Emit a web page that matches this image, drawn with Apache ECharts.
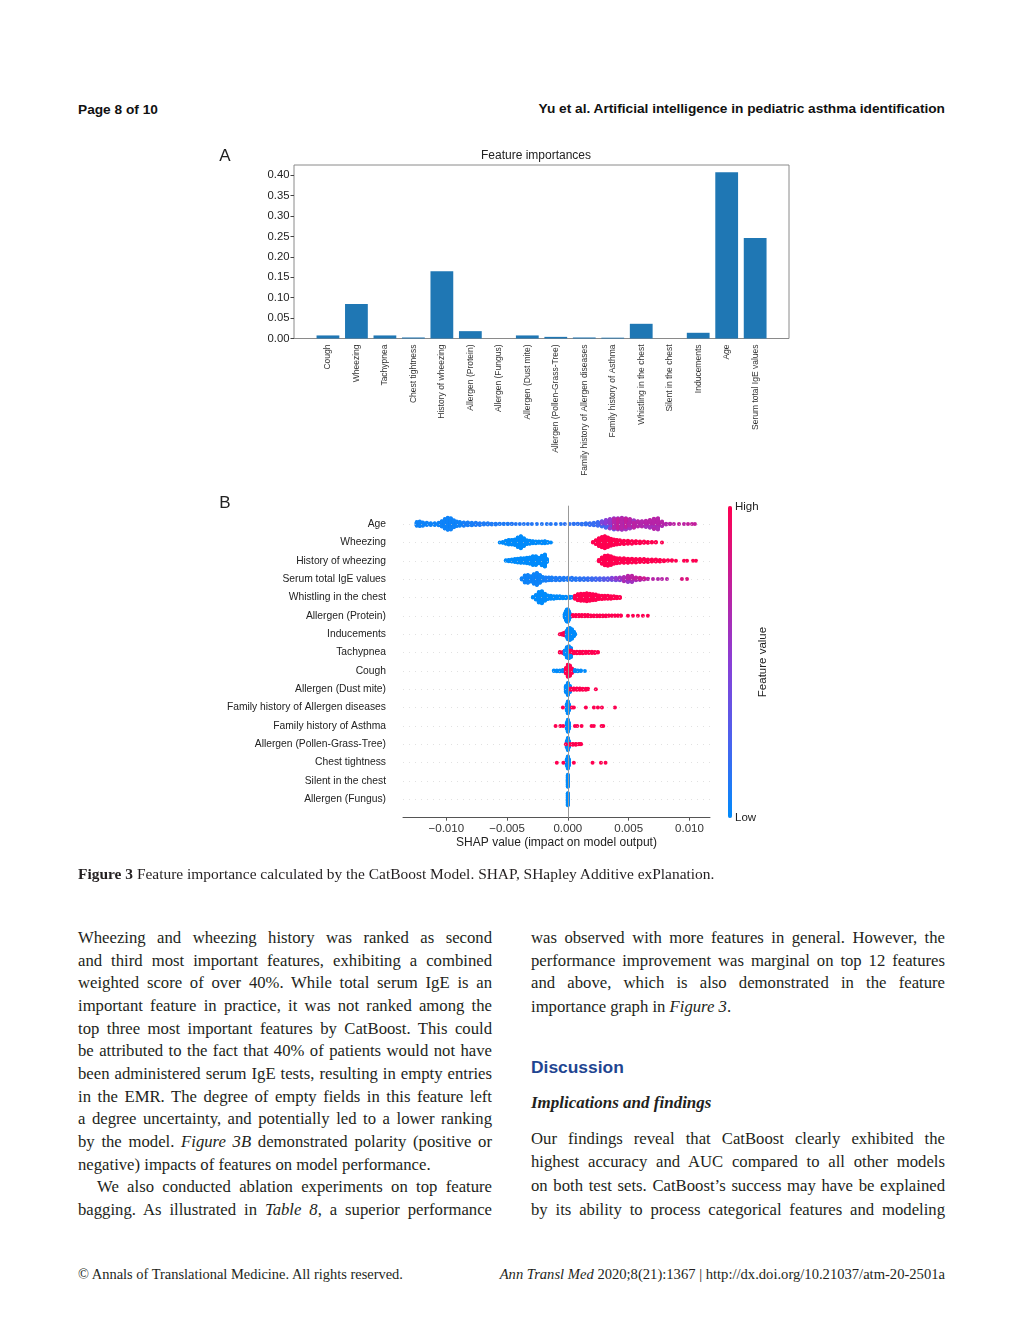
<!DOCTYPE html>
<html><head><meta charset="utf-8">
<script src="https://cdn.jsdelivr.net/npm/echarts@6/dist/echarts.min.js"></script>
<style>
html,body{margin:0;padding:0;background:#fff;}
#page{position:relative;width:1024px;height:1340px;overflow:hidden;background:#fff;}
.hdr{position:absolute;font-family:'Liberation Sans',Arial,sans-serif;font-weight:bold;font-size:13.7px;line-height:16px;color:#111;white-space:nowrap;}
.serif{font-family:'Liberation Serif','Times New Roman',serif;color:#231f20;}
.ln{position:absolute;height:22px;line-height:22px;font-size:16.7px;white-space:nowrap;}
.ln span{white-space:nowrap;}
#chart{position:absolute;left:0;top:130px;width:1024px;height:740px;}
</style></head>
<body><div id="page">
<div class="hdr" style="left:78px;top:102px;">Page 8 of 10</div>
<div class="hdr" style="right:79px;top:101px;">Yu et al. Artificial intelligence in pediatric asthma identification</div>
<div id="chart"></div>
<div class="serif" style="position:absolute;left:78px;top:865px;font-size:15.45px;line-height:18px;white-space:nowrap;"><b>Figure 3</b> Feature importance calculated by the CatBoost Model. SHAP, SHapley Additive exPlanation.</div>

<div class="serif ln j" style="left:78px;top:927px;width:414px;"><span>Wheezing and wheezing history was ranked as second</span></div>
<div class="serif ln j" style="left:78px;top:950px;width:414px;"><span>and third most important features, exhibiting a combined</span></div>
<div class="serif ln j" style="left:78px;top:972px;width:414px;"><span>weighted score of over 40%. While total serum IgE is an</span></div>
<div class="serif ln j" style="left:78px;top:995px;width:414px;"><span>important feature in practice, it was not ranked among the</span></div>
<div class="serif ln j" style="left:78px;top:1018px;width:414px;"><span>top three most important features by CatBoost. This could</span></div>
<div class="serif ln j" style="left:78px;top:1040px;width:414px;"><span>be attributed to the fact that 40% of patients would not have</span></div>
<div class="serif ln j" style="left:78px;top:1063px;width:414px;"><span>been administered serum IgE tests, resulting in empty entries</span></div>
<div class="serif ln j" style="left:78px;top:1086px;width:414px;"><span>in the EMR. The degree of empty fields in this feature left</span></div>
<div class="serif ln j" style="left:78px;top:1108px;width:414px;"><span>a degree uncertainty, and potentially led to a lower ranking</span></div>
<div class="serif ln j" style="left:78px;top:1131px;width:414px;"><span>by the model. <i>Figure 3B</i> demonstrated polarity (positive or</span></div>
<div class="serif ln" style="left:78px;top:1154px;width:414px;"><span>negative) impacts of features on model performance.</span></div>
<div class="serif ln j" style="left:97px;top:1176px;width:395px;"><span>We also conducted ablation experiments on top feature</span></div>
<div class="serif ln j" style="left:78px;top:1199px;width:414px;"><span>bagging. As illustrated in <i>Table 8</i>, a superior performance</span></div>

<div class="serif ln j" style="left:531px;top:927px;width:414px;"><span>was observed with more features in general. However, the</span></div>
<div class="serif ln j" style="left:531px;top:950px;width:414px;"><span>performance improvement was marginal on top 12 features</span></div>
<div class="serif ln j" style="left:531px;top:972px;width:414px;"><span>and above, which is also demonstrated in the feature</span></div>
<div class="serif ln" style="left:531px;top:996px;width:414px;"><span>importance graph in <i>Figure 3</i>.</span></div>
<div style="position:absolute;left:531px;top:1057px;font-family:'Liberation Sans',Arial,sans-serif;font-weight:bold;font-size:17.4px;line-height:20px;color:#1f4591;">Discussion</div>
<div class="serif" style="position:absolute;left:531px;top:1092px;font-size:17px;line-height:22px;font-weight:bold;font-style:italic;">Implications and findings</div>
<div class="serif ln j" style="left:531px;top:1128px;width:414px;"><span>Our findings reveal that CatBoost clearly exhibited the</span></div>
<div class="serif ln j" style="left:531px;top:1151px;width:414px;"><span>highest accuracy and AUC compared to all other models</span></div>
<div class="serif ln j" style="left:531px;top:1175px;width:414px;"><span>on both test sets. CatBoost’s success may have be explained</span></div>
<div class="serif ln j" style="left:531px;top:1199px;width:414px;"><span>by its ability to process categorical features and modeling</span></div>

<div class="serif" style="position:absolute;left:78px;top:1265px;font-size:14.45px;line-height:18px;white-space:nowrap;">© Annals of Translational Medicine. All rights reserved.</div>
<div class="serif" style="position:absolute;right:79px;top:1265px;font-size:14.6px;line-height:18px;white-space:nowrap;"><i>Ann Transl Med</i> 2020;8(21):1367 | http://dx.doi.org/10.21037/atm-20-2501a</div>
</div>
<script>
// ---------- Panel A data ----------
const barCategories = ['Cough','Wheezing','Tachypnea','Chest tightness','History of wheezing','Allergen (Protein)','Allergen (Fungus)','Allergen (Dust mite)','Allergen (Pollen-Grass-Tree)','Family history of Allergen diseases','Family history of Asthma','Whistling in the chest','Silent in the chest','Inducements','Age','Serum total IgE values'];
const barValues = [0.0075,0.0845,0.0075,0.0025,0.165,0.018,0.0,0.0075,0.004,0.0025,0.002,0.0360,0.0,0.0140,0.407,0.246];
const barYTicks = [0,0.05,0.10,0.15,0.20,0.25,0.30,0.35,0.40];

// ---------- Panel B data: [SHAP value, number of samples, feature value (0 low .. 1 high)] ----------
const shapFeatures = ['Age','Wheezing','History of wheezing','Serum total IgE values','Whistling in the chest','Allergen (Protein)','Inducements','Tachypnea','Cough','Allergen (Dust mite)','Family history of Allergen diseases','Family history of Asthma','Allergen (Pollen-Grass-Tree)','Chest tightness','Silent in the chest','Allergen (Fungus)'];
const shapXTicks = [-0.010,-0.005,0,0.005,0.010];

const shapAge = [[-0.01243,10,0.05],[-0.01218,12,0.05],[-0.01193,9,0.05],[-0.01160,6,0.05],[-0.01128,5,0.05],[-0.01095,5,0.05],[-0.01062,7,0.05],[-0.01037,14,0.05],[-0.01012,24,0.05],[-0.00988,30,0.05],[-0.00963,28,0.05],[-0.00938,18,0.05],[-0.00914,12,0.05],[-0.00889,10,0.05],[-0.00856,9,0.08],[-0.00823,8,0.08],[-0.00790,7,0.08],[-0.00757,6,0.1],[-0.00724,5,0.1],[-0.00691,4,0.1],[-0.00658,4,0.1],[-0.00626,3,0.1],[-0.00593,3,0.1],[-0.00560,2,0.1],[-0.00527,2,0.1],[-0.00494,2,0.1],[-0.00461,2,0.12],[-0.00428,1,0.12],[-0.00395,1,0.12],[-0.00362,1,0.12],[-0.00329,1,0.12],[-0.00296,1,0.12],[-0.00255,1,0.12],[-0.00214,1,0.12],[-0.00173,1,0.12],[-0.00140,1,0.12],[-0.00099,1,0.12],[-0.00058,1,0.12],[-0.00025,1,0.15],[0.00016,1,0.15],[0.00049,2,0.15],[0.00082,2,0.15],[0.00115,3,0.15],[0.00148,4,0.15],[0.00181,5,0.18],[0.00214,7,0.18],[0.00247,10,0.2],[0.00280,8,0.2],[0.00280,6,0.45],[0.00313,10,0.25],[0.00313,10,0.5],[0.00346,10,0.3],[0.00346,14,0.55],[0.00379,10,0.3],[0.00379,10,0.55],[0.00379,8,0.7],[0.00412,8,0.3],[0.00412,12,0.6],[0.00412,8,0.75],[0.00444,8,0.35],[0.00444,12,0.6],[0.00444,10,0.7],[0.00477,6,0.35],[0.00477,12,0.6],[0.00477,10,0.75],[0.00510,4,0.4],[0.00510,10,0.6],[0.00510,10,0.7],[0.00543,3,0.4],[0.00543,8,0.6],[0.00543,8,0.72],[0.00576,6,0.6],[0.00576,8,0.7],[0.00609,6,0.6],[0.00609,8,0.68],[0.00642,8,0.62],[0.00642,8,0.7],[0.00675,10,0.62],[0.00675,10,0.7],[0.00708,12,0.62],[0.00708,14,0.7],[0.00741,14,0.65],[0.00741,14,0.7],[0.00774,6,0.65],[0.00774,6,0.7],[0.00807,3,0.68],[0.00840,2,0.7],[0.00872,1,0.72],[0.00914,1,0.75],[0.00955,1,0.72],[0.00988,1,0.75],[0.01021,1,0.75],[0.01045,1,0.75]];
const shapWheezing = [[-0.00560,1,0],[-0.00535,3,0],[-0.00510,8,0],[-0.00486,12,0],[-0.00461,12,0],[-0.00436,14,0],[-0.00412,24,0],[-0.00387,30,0],[-0.00362,20,0],[-0.00337,10,0],[-0.00313,8,0],[-0.00288,6,0],[-0.00263,5,0],[-0.00239,4,0],[-0.00214,5,0],[-0.00189,6,0],[-0.00165,3,0],[-0.00140,1,0],[0.00206,2,1],[0.00230,10,1],[0.00255,20,1],[0.00280,26,1],[0.00304,30,1],[0.00329,24,1],[0.00354,18,1],[0.00379,14,1],[0.00403,12,1],[0.00428,10,1],[0.00461,9,1],[0.00494,8,1],[0.00527,7,1],[0.00560,6,1],[0.00593,5,1],[0.00626,4,1],[0.00658,3,1],[0.00691,2,1],[0.00724,2,1],[0.00774,1,1]];
const shapHistWheezing = [[-0.00510,2,0],[-0.00486,4,0],[-0.00461,6,0],[-0.00436,8,0],[-0.00412,10,0],[-0.00387,12,0],[-0.00362,12,0],[-0.00337,14,0],[-0.00313,16,0],[-0.00288,22,0],[-0.00263,22,0],[-0.00239,14,0],[-0.00214,24,0],[-0.00189,30,0],[-0.00173,8,0],[0.00255,4,1],[0.00280,16,1],[0.00304,24,1],[0.00329,26,1],[0.00354,22,1],[0.00379,16,1],[0.00403,13,1],[0.00428,12,1],[0.00461,12,1],[0.00494,11,1],[0.00527,10,1],[0.00560,9,1],[0.00593,8,1],[0.00626,8,1],[0.00658,7,1],[0.00691,6,1],[0.00724,6,1],[0.00757,5,1],[0.00790,3,1],[0.00823,2,1],[0.00856,2,1],[0.00889,1,1],[0.00955,1,1],[0.00980,1,1],[0.01029,1,1],[0.01054,1,1]];
const shapSerumIgE = [[-0.00379,4,0.05],[-0.00354,18,0.05],[-0.00329,20,0.05],[-0.00304,14,0.05],[-0.00280,24,0.05],[-0.00255,30,0.05],[-0.00230,20,0.05],[-0.00206,10,0.05],[-0.00181,9,0.08],[-0.00156,8,0.08],[-0.00132,8,0.08],[-0.00099,7,0.1],[-0.00066,7,0.1],[-0.00033,6,0.1],[0.00000,6,0.1],[0.00033,6,0.12],[0.00066,5,0.12],[0.00099,5,0.15],[0.00132,5,0.15],[0.00165,5,0.18],[0.00198,5,0.2],[0.00230,5,0.22],[0.00263,5,0.25],[0.00296,5,0.3],[0.00329,5,0.32],[0.00362,4,0.35],[0.00362,2,0.5],[0.00395,4,0.4],[0.00395,3,0.55],[0.00428,4,0.45],[0.00428,4,0.6],[0.00461,5,0.5],[0.00461,6,0.65],[0.00494,8,0.55],[0.00494,8,0.7],[0.00527,8,0.6],[0.00527,8,0.72],[0.00560,4,0.62],[0.00560,4,0.75],[0.00593,3,0.65],[0.00593,3,0.78],[0.00626,2,0.65],[0.00626,2,0.8],[0.00658,2,0.7],[0.00700,1,0.7],[0.00741,1,0.68],[0.00774,1,0.7],[0.00815,1,0.7],[0.00938,1,0.85],[0.00980,1,0.85]];
const shapWhistling = [[-0.00288,2,0],[-0.00263,12,0],[-0.00239,26,0],[-0.00214,30,0],[-0.00189,18,0],[-0.00165,10,0],[-0.00140,8,0],[-0.00115,7,0],[-0.00091,6,0],[-0.00066,6,0],[-0.00041,5,0],[-0.00016,5,0],[0.00016,4,0],[0.00033,2,0],[0.00058,8,1],[0.00082,16,1],[0.00107,18,1],[0.00132,18,1],[0.00156,20,1],[0.00181,18,1],[0.00206,16,1],[0.00230,14,1],[0.00255,10,1],[0.00280,9,1],[0.00304,8,1],[0.00329,8,1],[0.00354,7,1],[0.00379,6,1],[0.00403,5,1],[0.00428,3,1]];
const shapProtein = [[-0.00025,10,0],[-0.00016,22,0],[-0.00008,30,0],[0.00000,30,0],[0.00008,22,0],[0.00016,10,0],[0.00041,4,1],[0.00066,4,1],[0.00091,4,1],[0.00115,4,1],[0.00140,4,1],[0.00165,4,1],[0.00189,3,1],[0.00214,3,1],[0.00239,3,1],[0.00263,3,1],[0.00288,3,1],[0.00313,3,1],[0.00337,2,1],[0.00362,2,1],[0.00387,2,1],[0.00412,2,1],[0.00436,2,1],[0.00494,1,1],[0.00535,1,1],[0.00576,1,1],[0.00617,1,1],[0.00658,1,1]];
const shapInducements = [[-0.00066,1,1],[-0.00049,3,1],[-0.00033,6,1],[-0.00016,10,1],[-0.00008,16,0],[0.00000,26,0],[0.00016,30,0],[0.00033,24,0],[0.00049,12,0],[0.00058,3,0]];
const shapTachypnea = [[-0.00066,2,1],[-0.00041,3,1],[-0.00025,10,0],[-0.00008,26,0],[0.00008,30,0],[0.00025,18,0],[0.00025,5,1],[0.00049,5,1],[0.00074,5,1],[0.00099,5,1],[0.00123,5,1],[0.00148,4,1],[0.00173,4,1],[0.00198,4,1],[0.00222,3,1],[0.00247,2,1]];
const shapCough = [[-0.00115,2,0],[-0.00091,3,0],[-0.00066,3,0],[-0.00041,4,0],[-0.00016,14,1],[0.00000,30,1],[0.00016,26,1],[0.00033,12,1],[0.00058,4,0],[0.00082,3,0],[0.00107,2,0],[0.00140,1,0]];
const shapDustMite = [[-0.00016,16,0],[0.00000,30,0],[0.00016,16,0],[0.00025,4,1],[0.00049,4,1],[0.00074,4,1],[0.00099,4,1],[0.00123,3,1],[0.00148,3,1],[0.00165,2,1],[0.00230,1,1]];
const shapFamAllergen = [[-0.00008,16,0],[0.00000,30,0],[0.00008,16,0],[-0.00041,1,1],[0.00033,1,1],[0.00049,1,1],[0.00148,1,1],[0.00214,1,1],[0.00247,1,1],[0.00280,1,1],[0.00387,1,1]];
const shapFamAsthma = [[-0.00008,16,0],[0.00000,30,0],[0.00008,16,0],[-0.00101,1,1],[-0.00062,1,1],[-0.00039,1,1],[0.00058,1,1],[0.00077,1,1],[0.00113,1,1],[0.00195,1,1],[0.00214,1,1],[0.00277,1,1],[0.00291,1,1]];
const shapPollen = [[-0.00008,16,0],[0.00000,30,0],[0.00008,16,0],[-0.00016,1,1],[0.00016,3,1],[0.00041,3,1],[0.00066,3,1],[0.00091,2,1],[0.00107,2,1]];
const shapChestTight = [[-0.00008,16,0],[0.00000,30,0],[0.00008,16,0],[-0.00091,1,1],[-0.00037,1,1],[0.00049,1,1],[0.00203,1,1],[0.00272,1,1],[0.00310,1,1]];
const shapSilent = [[0.00000,30,0]];
const shapFungus = [[0.00000,30,0]];
const shapRows = [shapAge,shapWheezing,shapHistWheezing,shapSerumIgE,shapWhistling,shapProtein,shapInducements,shapTachypnea,shapCough,shapDustMite,shapFamAllergen,shapFamAsthma,shapPollen,shapChestTight,shapSilent,shapFungus];

// ---------- beeswarm layout (same rule as shap.summary_plot) ----------
function swarm(entries, rowY){
  const pts=[];
  entries.forEach((e,k)=>{ for(let i=0;i<e[1];i++) pts.push({x:e[0],fv:e[2],k:k,i:i}); });
  let mn=Infinity,mx=-Infinity; pts.forEach(p=>{mn=Math.min(mn,p.x);mx=Math.max(mx,p.x);});
  const nb=100, groups={};
  pts.forEach(p=>{p.q=Math.round(nb*(p.x-mn)/(mx-mn+1e-8)); (groups[p.q]=groups[p.q]||[]).push(p);});
  let maxOff=0;
  Object.keys(groups).forEach(q=>{
    const g=groups[q]; g.sort((a,b)=>a.i-b.i||a.k-b.k);
    g.forEach((p,l)=>{p.off=Math.ceil(l/2)*((l%2)*2-1); maxOff=Math.max(maxOff,p.off);});
  });
  const s=0.9*0.4/(maxOff+1);
  return pts.map(p=>[p.x,rowY+p.off*s,p.fv]);
}
const nRows = shapFeatures.length;
let scatterData=[];
shapRows.forEach((r,i)=>{ scatterData=scatterData.concat(swarm(r,nRows-1-i)); });

const FF="'Liberation Sans', Arial, Helvetica, sans-serif";
const minus=v=>(v<0?'\u2212':'')+Math.abs(v).toFixed(3);
const rowLines = shapFeatures.map((_,i)=>({yAxis:i,lineStyle:{color:'#cccccc',width:0.6,type:[1,5]}}));

const chart = echarts.init(document.getElementById('chart'), null, {renderer:'canvas'});
chart.setOption({
  animation:false,
  textStyle:{fontFamily:FF},
  title:[{text:'Feature importances', left:536, top:19.5, textAlign:'center', padding:0, textStyle:{fontSize:12,fontWeight:'normal',color:'#222',fontFamily:FF}}],
  grid:[
    {left:313.7, top:35, width:455.7, height:173.5},
    {left:294, top:35, width:495, height:173.5, show:true, borderColor:'#8a8a8a', borderWidth:1, backgroundColor:'transparent'},
    {left:403, top:375.7, width:307, height:312}
  ],
  xAxis:[
    {type:'category', gridIndex:0, data:barCategories, axisLine:{show:false},
     axisTick:{alignWithLabel:true,length:3.5,lineStyle:{color:'#444'}},
     axisLabel:{rotate:90, interval:0, fontSize:8.5, color:'#333', margin:6, fontFamily:FF}},
    {type:'value', gridIndex:1, show:false, min:0, max:1},
    {type:'value', gridIndex:2, min:-0.01356, max:0.01169,
     axisLine:{show:true,onZero:false,lineStyle:{color:'#555',width:1}},
     axisTick:{show:true,customValues:shapXTicks,length:3,lineStyle:{color:'#555'}},
     axisLabel:{customValues:shapXTicks, formatter:minus, fontSize:11.5, color:'#333', margin:5, fontFamily:FF},
     splitLine:{show:false},
     name:'SHAP value (impact on model output)', nameLocation:'middle', nameGap:19,
     nameTextStyle:{fontSize:12,color:'#222',fontFamily:FF}}
  ],
  yAxis:[
    {type:'value', gridIndex:0, min:0, max:0.425, offset:19.7, axisLine:{show:false},
     axisTick:{show:true,customValues:barYTicks,length:3.5,lineStyle:{color:'#444'}},
     axisLabel:{customValues:barYTicks, formatter:v=>v.toFixed(2), fontSize:11.3, color:'#222', margin:4.5, fontFamily:FF},
     splitLine:{show:false}},
    {type:'value', gridIndex:1, show:false, min:0, max:1},
    {type:'value', gridIndex:2, min:-1, max:16, interval:1, axisLine:{show:false}, axisTick:{show:false}, splitLine:{show:false},
     axisLabel:{formatter:v=>(v>=0&&v<nRows)?shapFeatures[nRows-1-v]:'', fontSize:10.3, color:'#222', margin:17, fontFamily:FF}}
  ],
  visualMap:{type:'continuous', min:0, max:1, dimension:2, seriesIndex:2, orient:'vertical',
    left:728, top:376, itemWidth:4, itemHeight:312, padding:0, calculable:false, hoverLink:false,
    inRange:{color:['#008bfb','#4b62ee','#8a3fd6','#c21f9c','#ff0051']}},
  graphic:[
    {type:'text', x:225, y:26, style:{text:'A', fontSize:17, fontFamily:FF, fill:'#222', align:'center', verticalAlign:'middle', textAlign:'center', textVerticalAlign:'middle'}},
    {type:'text', x:225, y:373, style:{text:'B', fontSize:17, fontFamily:FF, fill:'#222', align:'center', verticalAlign:'middle', textAlign:'center', textVerticalAlign:'middle'}},
    {type:'text', x:735, y:376.5, style:{text:'High', fontSize:11.5, fontFamily:FF, fill:'#222', align:'left', verticalAlign:'middle', textAlign:'left', textVerticalAlign:'middle'}},
    {type:'text', x:735, y:687.5, style:{text:'Low', fontSize:11.5, fontFamily:FF, fill:'#222', align:'left', verticalAlign:'middle', textAlign:'left', textVerticalAlign:'middle'}},
    {type:'text', x:763, y:532, rotation:Math.PI/2, style:{text:'Feature value', fontSize:11.5, fontFamily:FF, fill:'#222', align:'center', verticalAlign:'middle', textAlign:'center', textVerticalAlign:'middle'}}
  ],
  series:[
    {type:'bar', xAxisIndex:0, yAxisIndex:0, data:barValues, barWidth:'80%', itemStyle:{color:'#1f77b4'}, silent:true},
    {type:'line', xAxisIndex:2, yAxisIndex:2, data:[], z:1, silent:true,
     markLine:{silent:true, symbol:['none','none'], label:{show:false}, animation:false,
       data:[{xAxis:0,lineStyle:{color:'#999999',width:1,type:'solid'}}].concat(rowLines)}},
    {type:'scatter', xAxisIndex:2, yAxisIndex:2, data:scatterData, symbolSize:4, z:3, silent:true,
     progressive:0, large:false, itemStyle:{opacity:1}}
  ]
});

// justify each text line to its column width
document.querySelectorAll('.ln.j').forEach(el=>{
  const sp=el.firstElementChild; const w=sp.getBoundingClientRect().width;
  const n=(sp.textContent.match(/ /g)||[]).length; const W=parseFloat(el.style.width);
  if(n) sp.style.wordSpacing=((W-w)/n)+'px';
});
</script>
</body></html>
